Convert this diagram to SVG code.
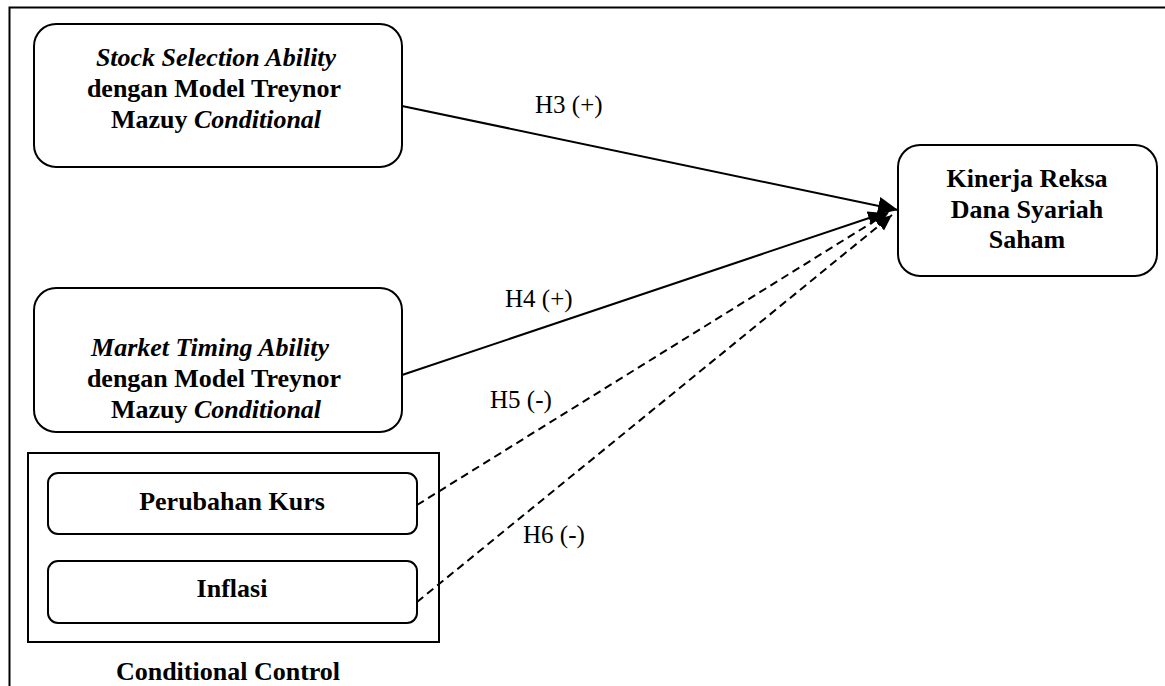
<svg xmlns="http://www.w3.org/2000/svg" width="1165" height="686" viewBox="0 0 1165 686">
<style>
.box{fill:#fff;stroke:#000;stroke-width:2}
.t{font-family:'Liberation Serif','Times New Roman','DejaVu Serif',serif;font-size:26px;font-weight:bold;text-anchor:middle;fill:#000}
.i{font-style:italic}
.lbl{font-family:'Liberation Serif','Times New Roman','DejaVu Serif',serif;font-size:25px;fill:#000}
.c{fill:none;stroke:#000;stroke-width:2}
.d{stroke-dasharray:8 5}
</style>
<defs>
<marker id="ah" markerUnits="userSpaceOnUse" markerWidth="22" markerHeight="20" refX="20" refY="9" orient="auto">
<path d="M0,0 L20,9 L0,18 Z" fill="#000" stroke="none"/>
</marker>
<marker id="ah2" markerUnits="userSpaceOnUse" markerWidth="18" markerHeight="16" refX="16" refY="7" orient="auto">
<path d="M0,0 L16,7 L0,14 Z" fill="#000" stroke="none"/>
</marker>
</defs>
<rect width="1165" height="686" fill="#fff"/>
<path d="M9.5,686 L9.5,7.5 L1165,7.5" fill="none" stroke="#000" stroke-width="2"/>
<g id="stock">
<rect class="box" x="34" y="24" width="368" height="143" rx="22"/>
<text class="t" x="216" y="66" font-family="Liberation Serif, serif"><tspan class="i">Stock Selection Ability</tspan></text>
<text class="t" x="214" y="97" font-family="Liberation Serif, serif">dengan Model Treynor</text>
<text class="t" x="216" y="128" font-family="Liberation Serif, serif">Mazuy <tspan class="i">Conditional</tspan></text>
</g>
<g id="market">
<rect class="box" x="34" y="288" width="368" height="144" rx="22"/>
<text class="t" x="210" y="356" font-family="Liberation Serif, serif"><tspan class="i">Market Timing Ability</tspan></text>
<text class="t" x="214" y="387" font-family="Liberation Serif, serif">dengan Model Treynor</text>
<text class="t" x="216" y="418" font-family="Liberation Serif, serif">Mazuy <tspan class="i">Conditional</tspan></text>
</g>
<g id="kinerja">
<rect class="box" x="898" y="145" width="259" height="131" rx="22"/>
<text class="t" x="1027" y="187" font-family="Liberation Serif, serif">Kinerja Reksa</text>
<text class="t" x="1027" y="218" font-family="Liberation Serif, serif">Dana Syariah</text>
<text class="t" x="1027" y="248" font-family="Liberation Serif, serif">Saham</text>
</g>
<g id="control">
<rect x="28" y="453" width="411" height="189" fill="none" stroke="#000" stroke-width="2"/>
<text class="t" x="228" y="680" font-family="Liberation Serif, serif">Conditional Control</text>
</g>
<g id="kurs">
<rect class="box" x="48" y="473" width="369" height="61" rx="10"/>
<text class="t" x="232" y="510" font-family="Liberation Serif, serif">Perubahan Kurs</text>
</g>
<g id="inflasi">
<rect class="box" x="48" y="561" width="369" height="62" rx="10"/>
<text class="t" x="232" y="597" font-family="Liberation Serif, serif">Inflasi</text>
</g>
<g id="connectors">
<path class="c" d="M402,106 L898,210" marker-end="url(#ah)"/>
<path class="c" d="M402,375 L884,213" marker-end="url(#ah2)"/>
<path class="c d" d="M417,505 L889,212" marker-end="url(#ah2)"/>
<path class="c d" d="M417,602 L892,215" marker-end="url(#ah2)"/>
<text class="lbl" x="535" y="113" font-family="Liberation Serif, serif">H3 (+)</text>
<text class="lbl" x="505" y="307" font-family="Liberation Serif, serif">H4 (+)</text>
<text class="lbl" x="490" y="408" font-family="Liberation Serif, serif">H5 (-)</text>
<text class="lbl" x="523" y="543" font-family="Liberation Serif, serif">H6 (-)</text>
</g>
</svg>
